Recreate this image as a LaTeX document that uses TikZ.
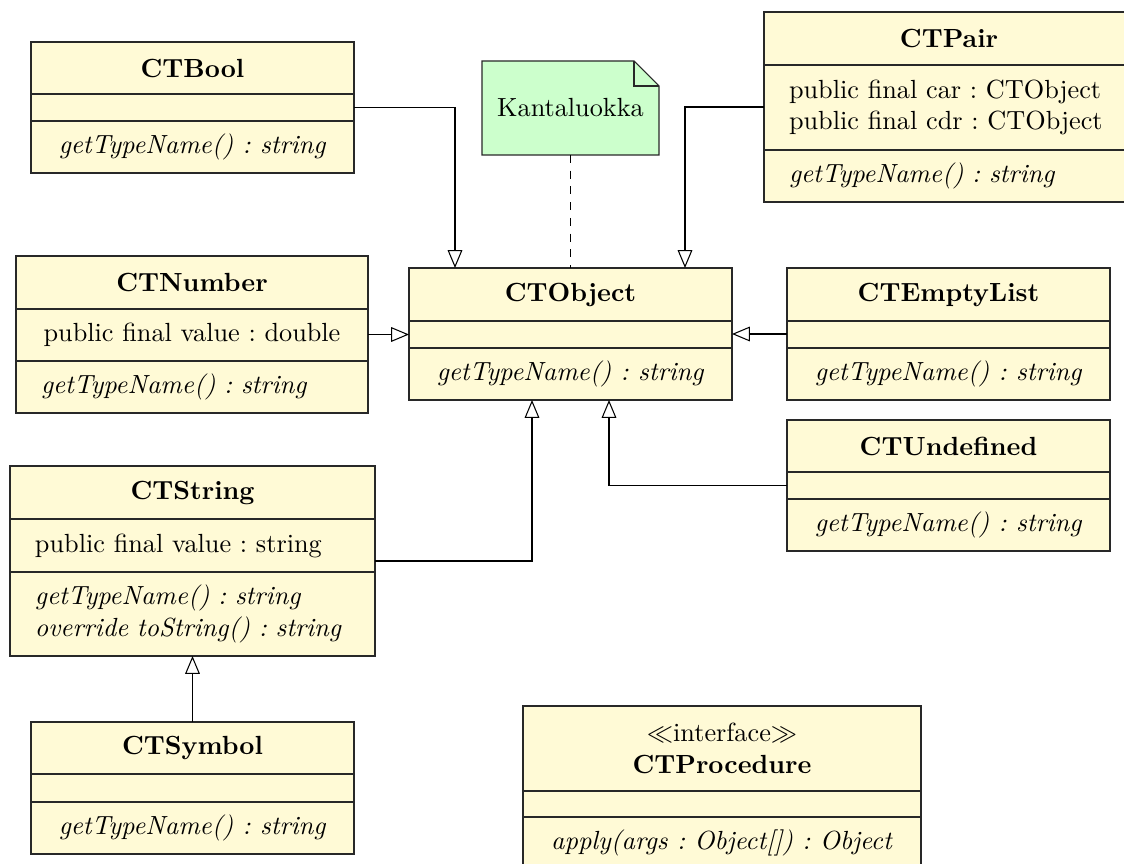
\documentclass[tikz,border=0pt]{standalone}
\usetikzlibrary{arrows.meta,calc}
\definecolor{umlyellow}{RGB}{255,250,214}
\definecolor{umlgreen}{RGB}{204,255,204}
\definecolor{umlborder}{RGB}{40,40,40}
\frenchspacing
\tikzset{
  box/.style 2 args={minimum width=#1*0.381pt, minimum height=#2*0.381pt},
  whole/.style={draw=none, fill=none, inner sep=0pt, outer sep=0pt, anchor=north west},
  part/.style={draw=umlborder, fill=umlyellow, line width=0.4pt, inner sep=0pt, outer sep=0pt, anchor=north west, align=center},
  lpart/.style 2 args={part, box={#1}{#2}, text width=(#1-50)*0.381pt, align=left},
  inh/.style={draw=black, line width=0.4pt, -{Triangle[open, length=6.8pt, width=5.6pt]}},
  notelink/.style={draw=black, line width=0.4pt, dashed},
}
\begin{document}
\begin{tikzpicture}[x=0.381pt, y=-0.381pt]
\useasboundingbox (0,0) rectangle (1124,864);
\clip (0,0) rectangle (1124,864);

% CTBool
\node[whole, box={323}{131}] (bool) at (31,42) {};
\node[part, box={323}{52}] (boolT) at (31,42) {\textbf{CTBool}};
\node[part, box={323}{27}] (boolA) at (31,94) {};
\node[part, box={323}{52}] (boolM) at (31,121) {\textit{getTypeName() : string}};

% CTPair
\node[whole, box={370}{190}] (pair) at (764,12) {};
\node[part, box={370}{53}] (pairT) at (764,12) {\textbf{CTPair}};
\node[lpart={370}{85}] (pairA) at (764,65) {public final car : CTObject\\public final cdr : CTObject};
\node[lpart={370}{52}] (pairM) at (764,150) {\textit{getTypeName() : string}};

% CTNumber
\node[whole, box={352}{157}] (num) at (16,256) {};
\node[part, box={352}{53}] (numT) at (16,256) {\textbf{CTNumber}};
\node[part, box={352}{52}] (numA) at (16,309) {public final value : double};
\node[lpart={352}{52}] (numM) at (16,361) {\textit{getTypeName() : string}};

% CTObject
\node[whole, box={323}{132}] (obj) at (409,268) {};
\node[part, box={323}{53}] (objT) at (409,268) {\textbf{CTObject}};
\node[part, box={323}{27}] (objA) at (409,321) {};
\node[part, box={323}{52}] (objM) at (409,348) {\textit{getTypeName() : string}};

% CTEmptyList
\node[whole, box={323}{132}] (empty) at (787,268) {};
\node[part, box={323}{53}] (emptyT) at (787,268) {\textbf{CTEmptyList}};
\node[part, box={323}{27}] (emptyA) at (787,321) {};
\node[part, box={323}{52}] (emptyM) at (787,348) {\textit{getTypeName() : string}};

% CTUndefined
\node[whole, box={323}{131}] (undef) at (787,420) {};
\node[part, box={323}{52}] (undefT) at (787,420) {\textbf{CTUndefined}};
\node[part, box={323}{27}] (undefA) at (787,472) {};
\node[part, box={323}{52}] (undefM) at (787,499) {\textit{getTypeName() : string}};

% CTString
\node[whole, box={365}{190}] (str) at (10,466) {};
\node[part, box={365}{53}] (strT) at (10,466) {\textbf{CTString}};
\node[lpart={365}{53}] (strA) at (10,519) {public final value : string};
\node[lpart={365}{84}] (strM) at (10,572) {\textit{getTypeName() : string}\\\textit{override toString() : string}};

% CTSymbol
\node[whole, box={323}{132}] (sym) at (31,722) {};
\node[part, box={323}{52}] (symT) at (31,722) {\textbf{CTSymbol}};
\node[part, box={323}{28}] (symA) at (31,774) {};
\node[part, box={323}{52}] (symM) at (31,802) {\textit{getTypeName() : string}};

% CTProcedure
\node[whole, box={398}{163}] (proc) at (523,706) {};
\node[part, box={398}{85}] (procT) at (523,706) {$\ll$interface$\gg$\\\textbf{CTProcedure}};
\node[part, box={398}{26}] (procA) at (523,791) {};
\node[part, box={398}{52}] (procM) at (523,817) {\textit{apply(args : Object[]) : Object}};

% Note
\node[whole, box={177}{94}] (note) at (482,61) {};
\fill[umlgreen] (note.north west) -- ($(note.north east)+(-25,0)$) -- ($(note.north east)+(0,25)$) -- (note.south east) -- (note.south west) -- cycle;
\draw[umlborder, line width=0.4pt] (note.north west) -- ($(note.north east)+(-25,0)$) -- ($(note.north east)+(0,25)$) -- (note.south east) -- (note.south west) -- cycle;
\draw[umlborder, line width=0.4pt] ($(note.north east)+(-25,0)$) -- ($(note.north east)+(-25,25)$) -- ($(note.north east)+(0,25)$);
\node[inner sep=0pt] (notetext) at (note.center) {Kantaluokka};

% Connectors
\draw[inh] (bool.east) -| ($(obj.north west)+(46,0)$);
\draw[inh] (pair.west) -| ($(obj.north west)+(276,0)$);
\draw[notelink] (note.south) -- (obj.north);
\draw[inh] (num.east) -- (num.east -| obj.west);
\draw[inh] (empty.west) -- (empty.west -| obj.east);
\draw[inh] (undef.west) -| ($(obj.south west)+(200,0)$);
\draw[inh] (str.east) -| ($(obj.south west)+(123,0)$);
\draw[inh] (sym.north) -- (str.south);
\end{tikzpicture}
\end{document}
